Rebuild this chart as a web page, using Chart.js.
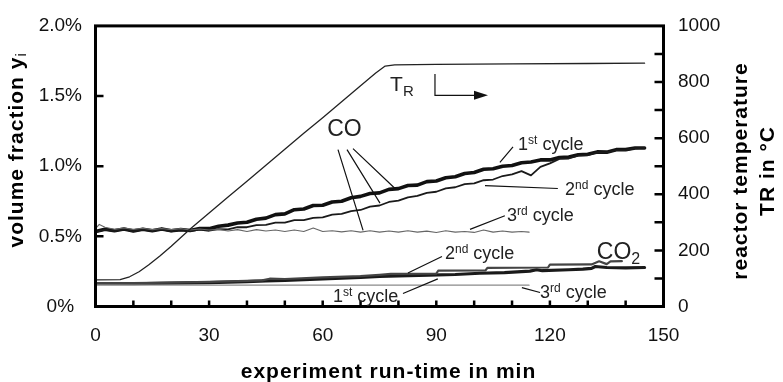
<!DOCTYPE html>
<html>
<head>
<meta charset="utf-8">
<script src="https://cdn.jsdelivr.net/npm/chart.js@4"></script>
<style>
  html, body { margin: 0; padding: 0; background: #fff; }
  canvas { display: block; }
</style>
</head>
<body>
<canvas id="chart" width="783" height="382"></canvas>
<script>
// ------------------------------------------------------------------
// data (time in min, CO / CO2 in vol-%, T_R in °C)
// ------------------------------------------------------------------
const tCO = [0, 2.5, 5, 7.5, 10, 12.5, 15, 17.5, 20, 22.5, 25, 27.5, 30, 32.5, 35, 37.5, 40, 42.5, 45, 47.5,
  50, 52.5, 55, 57.5, 60, 62.5, 65, 67.5, 70, 72.5, 75, 77.5, 80, 82.5, 85, 87.5, 90, 92.5, 95, 97.5,
  100, 102.5, 105, 107.5, 110, 112.5, 115, 117.5, 120, 122.5, 125, 127.5, 130, 132.5, 135, 137.5, 140, 142.5, 145];
const co1st = [0.535, 0.55, 0.54, 0.552, 0.538, 0.55, 0.54, 0.553, 0.54, 0.548, 0.542, 0.556, 0.555, 0.572, 0.58, 0.595, 0.6, 0.622, 0.63, 0.655,
  0.66, 0.69, 0.695, 0.72, 0.722, 0.745, 0.75, 0.775, 0.785, 0.805, 0.81, 0.835, 0.84, 0.862, 0.865, 0.89, 0.895, 0.918, 0.925, 0.948,
  0.955, 0.978, 0.982, 1.0, 1.005, 1.025, 1.03, 1.045, 1.045, 1.062, 1.065, 1.082, 1.085, 1.102, 1.1, 1.118, 1.118, 1.13, 1.13];
const co2nd = [0.53, 0.548, 0.538, 0.55, 0.535, 0.548, 0.538, 0.55, 0.535, 0.545, 0.538, 0.548, 0.54, 0.552, 0.55, 0.565, 0.565, 0.58, 0.582, 0.598,
  0.598, 0.615, 0.615, 0.632, 0.635, 0.655, 0.66, 0.68, 0.688, 0.712, 0.72, 0.745, 0.755, 0.778, 0.788, 0.81, 0.818, 0.842, 0.85, 0.872,
  0.878, 0.9, 0.905, 0.93, 0.942, 0.965, 0.935, 0.995, 1.02, 1.052, 1.055, 1.075, 1.078, 1.098, 1.098, 1.115, 1.115, 1.128, 1.13];

const tCO3rd = [0, 1, 2.5, 5, 7.5, 10, 12.5, 15, 17.5, 20, 22.5, 25, 27.5, 30, 32.5, 35, 37.5, 40, 42.5, 45, 47.5,
  50, 52.5, 55, 57.5, 60, 62.5, 65, 67.5, 70, 72.5, 75, 77.5, 80, 82.5, 85, 87.5, 90, 92.5, 95, 97.5,
  100, 102.5, 105, 107.5, 110, 112.5, 114.5];
const co3rd = [0.555, 0.585, 0.565, 0.55, 0.56, 0.55, 0.558, 0.548, 0.556, 0.548, 0.555, 0.545, 0.552, 0.545, 0.55, 0.538, 0.548, 0.535, 0.548, 0.538, 0.545,
  0.535, 0.545, 0.535, 0.56, 0.535, 0.54, 0.532, 0.54, 0.53, 0.54, 0.53, 0.538, 0.53, 0.54, 0.53, 0.537, 0.528, 0.54, 0.53, 0.535,
  0.528, 0.545, 0.53, 0.538, 0.53, 0.535, 0.53];

const tCO2_1st = [0, 10, 20, 30, 40, 45, 50, 60, 70, 75, 80, 88, 95, 101.5, 108, 114.7, 116.5, 118, 125, 128.7, 131, 132, 135, 140, 145];
const co2_1st = [0.162, 0.162, 0.166, 0.17, 0.178, 0.183, 0.186, 0.196, 0.207, 0.215, 0.218, 0.224, 0.228, 0.237, 0.242, 0.252, 0.262, 0.255, 0.262, 0.266, 0.272, 0.285, 0.278, 0.276, 0.278];
const tCO2_2nd = [0, 10, 20, 30, 40, 44, 46, 50, 60, 70, 75, 78, 90, 90.5, 103, 103.5, 119.5, 120, 131, 133, 135, 136, 139];
const co2_2nd = [0.165, 0.166, 0.17, 0.175, 0.182, 0.186, 0.198, 0.196, 0.207, 0.217, 0.226, 0.232, 0.234, 0.255, 0.257, 0.276, 0.278, 0.298, 0.3, 0.322, 0.302, 0.322, 0.323];
const tCO2_3rd = [0, 30, 60, 90, 114.5];
const co2_3rd = [0.154, 0.153, 0.153, 0.152, 0.152];

const tTR = [0, 6.5, 9, 11.5, 14, 17, 20, 25, 30, 35, 40, 45, 50, 55, 60, 65, 70, 74, 76.5, 79, 90, 110, 130, 145];
const reactorTemp = [95, 96, 106, 124, 148, 180, 215, 276, 333, 390, 446, 503, 560, 617, 673, 730, 787, 832, 857, 861, 863, 865, 866, 867];

const xTickLabels = ['0', '30', '60', '90', '120', '150'];
const yTickLabels = ['0%', '0.5%', '1.0%', '1.5%', '2.0%'];
const y2TickLabels = ['0', '200', '400', '600', '800', '1000'];

// ------------------------------------------------------------------
const FONT = "'Liberation Sans', Arial, Helvetica, sans-serif";
const pts = (xs, ys) => xs.map((x, i) => ({ x, y: ys[i] }));

function line(label, xs, ys, width, color, axis) {
  return {
    label, data: pts(xs, ys), yAxisID: axis || 'y',
    borderColor: color, borderWidth: width, pointRadius: 0, tension: 0,
    borderJoinStyle: 'round', borderCapStyle: 'round', fill: false,
  };
}

// draws text pieces in a row: [text, size, dy, bold]
function rich(ctx, x, y, parts, align) {
  const f = p => (p[3] ? 'bold ' : '') + p[1] + 'px ' + FONT;
  let w = 0;
  parts.forEach(p => { ctx.font = f(p); w += ctx.measureText(p[0]).width; });
  let cx = align === 'center' ? x - w / 2 : x;
  ctx.textAlign = 'left';
  parts.forEach(p => {
    ctx.font = f(p);
    ctx.fillText(p[0], cx, y + (p[2] || 0));
    cx += ctx.measureText(p[0]).width;
  });
}

const cyc = (n, s) => [[n, 18, 0], [s, 12, -6], [' cycle', 18, 0]];

// text labels and leader lines, placed in data units (t, %)
const notes = [
  { at: [65.75, 1.215], parts: [['CO', 23, 0]], align: 'center' },
  { at: [111.6, 1.118], parts: cyc('1', 'st') },
  { at: [124.0, 0.792], parts: cyc('2', 'nd') },
  { at: [108.7, 0.612], parts: cyc('3', 'rd') },
  { at: [132.4, 0.336], parts: [['CO', 23, 0], ['2', 16, 5]] },
  { at: [92.3, 0.336], parts: cyc('2', 'nd') },
  { at: [62.7, 0.031], parts: cyc('1', 'st') },
  { at: [117.4, 0.059], parts: cyc('3', 'rd') },
  { at: [77.8, 1.533], parts: [['T', 21, 0], ['R', 15, 5]] },
];
const leaders = [
  [64.04, 1.118, 70.66, 0.543],
  [66.42, 1.118, 75.13, 0.737],
  [68.0, 1.125, 79.1, 0.841],
  [110.26, 1.138, 106.8, 1.028],
  [102.86, 0.862, 122.1, 0.841],
  [98.9, 0.55, 108.1, 0.647],
  [91.5, 0.356, 82.5, 0.239],
  [81.2, 0.093, 90.4, 0.197],
  [112.6, 0.135, 117.4, 0.1],
];

const decor = {
  id: 'decor',
  afterDatasetsDraw(chart) {
    const { ctx, chartArea: a, scales: { x, y, y1 } } = chart;
    ctx.save();
    ctx.strokeStyle = '#000';
    ctx.fillStyle = '#111';

    // frame
    ctx.lineWidth = 3;
    ctx.strokeRect(a.left, a.top, a.right - a.left, a.bottom - a.top);

    // inward tick marks
    ctx.lineWidth = 2.5;
    ctx.beginPath();
    for (let v = 10; v < 150; v += 10) {
      const px = x.getPixelForValue(v);
      ctx.moveTo(px, a.bottom); ctx.lineTo(px, a.bottom - 6);
    }
    for (let v = 0.5; v < 2; v += 0.5) {
      const py = y.getPixelForValue(v);
      ctx.moveTo(a.left, py); ctx.lineTo(a.left + 8, py);
    }
    for (let v = 100; v < 1000; v += 100) {
      const py = y1.getPixelForValue(v);
      ctx.moveTo(a.right, py); ctx.lineTo(a.right - 9, py);
    }
    ctx.stroke();

    // leader lines
    ctx.lineWidth = 1.2;
    ctx.strokeStyle = '#111';
    ctx.beginPath();
    leaders.forEach(l => {
      ctx.moveTo(x.getPixelForValue(l[0]), y.getPixelForValue(l[1]));
      ctx.lineTo(x.getPixelForValue(l[2]), y.getPixelForValue(l[3]));
    });
    // T_R arrow
    const ax = x.getPixelForValue(89.65), ay0 = y.getPixelForValue(1.657), ay1 = y.getPixelForValue(1.505);
    const ax1 = x.getPixelForValue(103.65);
    ctx.moveTo(ax, ay0); ctx.lineTo(ax, ay1); ctx.lineTo(ax1 - 8, ay1);
    ctx.stroke();
    ctx.beginPath();
    ctx.moveTo(ax1, ay1); ctx.lineTo(ax1 - 14, ay1 - 4.5); ctx.lineTo(ax1 - 14, ay1 + 4.5); ctx.closePath();
    ctx.fill();

    // annotation text
    ctx.textBaseline = 'alphabetic';
    ctx.fillStyle = '#222';
    notes.forEach(n => rich(ctx, x.getPixelForValue(n.at[0]), y.getPixelForValue(n.at[1]), n.parts, n.align));

    // axis titles
    ctx.fillStyle = '#000';
    ctx.letterSpacing = '1px';
    ctx.textBaseline = 'middle';
    ctx.font = 'bold 21px ' + FONT;
    ctx.textAlign = 'center';
    ctx.fillText('experiment run-time in min', 388.5, 372);

    ctx.save();
    ctx.translate(17, 150);
    ctx.rotate(-Math.PI / 2);
    rich(ctx, 0, 0, [['volume fraction y', 21, 0, true], ['i', 14, 5, false]], 'center');
    ctx.restore();

    ctx.save();
    ctx.translate(741.5, 171);
    ctx.rotate(-Math.PI / 2);
    ctx.font = 'bold 21px ' + FONT;
    ctx.textAlign = 'center';
    ctx.fillText('reactor temperature', 0, 0);
    ctx.fillText('TR in °C', 0, 27);
    ctx.restore();

    ctx.restore();
  },
};

const tickFont = { family: FONT, size: 19 };

new Chart(document.getElementById('chart'), {
  type: 'line',
  data: {
    datasets: [
      line('T_R', tTR, reactorTemp, 1.3, '#222', 'y1'),
      line('CO2 3rd', tCO2_3rd, co2_3rd, 1.2, '#8a8a8a'),
      line('CO2 2nd', tCO2_2nd, co2_2nd, 2.2, '#444'),
      line('CO2 1st', tCO2_1st, co2_1st, 3.2, '#1a1a1a'),
      line('CO 3rd', tCO3rd, co3rd, 1.1, '#666'),
      line('CO 2nd', tCO, co2nd, 1.8, '#1a1a1a'),
      line('CO 1st', tCO, co1st, 3.6, '#111'),
    ],
  },
  options: {
    responsive: false,
    animation: false,
    layout: { padding: { top: 17.5, left: 0, right: 0, bottom: 0 } },
    plugins: { legend: { display: false }, tooltip: { enabled: false } },
    scales: {
      x: {
        type: 'linear', min: 0, max: 150,
        afterFit: s => { s.height = 75.5; },
        grid: { display: false, drawTicks: false },
        border: { display: false },
        ticks: { stepSize: 30, padding: 18, color: '#111', font: tickFont, callback: (v, i) => xTickLabels[i] },
      },
      y: {
        position: 'left', min: 0, max: 2,
        afterFit: s => { s.width = 95.5; },
        grid: { display: false, drawTicks: false },
        border: { display: false },
        ticks: { stepSize: 0.5, padding: 13.5, crossAlign: 'center', color: '#111', font: tickFont, callback: (v, i) => yTickLabels[i] },
      },
      y1: {
        position: 'right', min: 0, max: 1000,
        afterFit: s => { s.width = 119.5; },
        grid: { display: false, drawTicks: false },
        border: { display: false },
        ticks: { stepSize: 200, padding: 14.5, color: '#111', font: tickFont, callback: (v, i) => y2TickLabels[i] },
      },
    },
  },
  plugins: [decor],
});
</script>
</body>
</html>
